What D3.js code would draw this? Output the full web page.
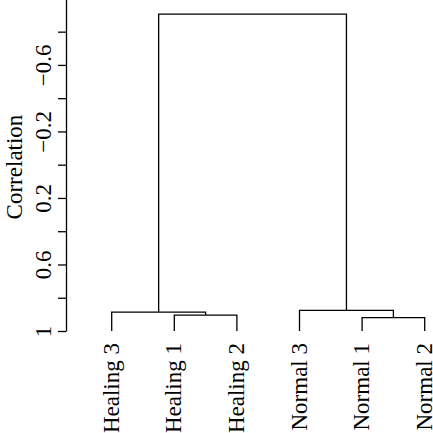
<!DOCTYPE html>
<html>
<head>
<meta charset="utf-8">
<script src="https://cdn.jsdelivr.net/npm/d3@7"></script>
<style>
  html, body { margin: 0; padding: 0; background: #fff; }
  svg { display: block; }
  text { font-family: "Liberation Serif", "Times New Roman", serif; fill: #000; }
</style>
</head>
<body>
<svg id="chart" width="433" height="433"></svg>
<script>
// Leaf order (left to right)
const leaves = ["Healing 3", "Healing 1", "Healing 2", "Normal 3", "Normal 1", "Normal 2"];
// Merge table (R-style: negative = leaf index (1-based), positive = earlier merge step)
const mergeLeft   = [-2, -5, -1, -4, 3];
const mergeRight  = [-3, -6, 1, 2, 4];
const mergeHeight = [0.904, 0.92, 0.886, 0.876, -0.906];
// Axis ticks
const tickValues = [-1, -0.8, -0.6, -0.4, -0.2, 0, 0.2, 0.4, 0.6, 0.8, 1];
const tickLabels = ["", "", "-0.6", "", "-0.2", "", "0.2", "", "0.6", "", "1"];
const yTitle = "Correlation";

const FS = 23;
const svg = d3.select("#chart");
const x = d3.scalePoint().domain(leaves).range([111.7, 424.7]);
const y = d3.scaleLinear().domain([-1, 1]).range([-1.6, 331]);

// Build node positions
const nodes = [];
function pos(ref) {
  if (ref < 0) { const name = leaves[-ref - 1]; return { x: x(name), h: 1 }; }
  return nodes[ref - 1];
}
mergeLeft.forEach((l, i) => {
  const a = pos(l), b = pos(mergeRight[i]);
  nodes.push({ x: (a.x + b.x) / 2, h: mergeHeight[i], a: a, b: b });
});

svg.append("g").selectAll("path.link")
  .data(nodes)
  .join("path")
  .attr("class", "link")
  .attr("fill", "none")
  .attr("stroke", "#000")
  .attr("stroke-width", 1.3)
  .attr("d", d => `M${d.a.x},${y(d.a.h)}V${y(d.h)}H${d.b.x}V${y(d.b.h)}`);

// Y axis
const fmt = v => {
  const s = tickLabels[tickValues.indexOf(v)];
  return s ? s.replace("-", "\u2212") : "";
};
const axis = d3.axisLeft(y).tickValues(tickValues).tickFormat(fmt).tickSize(8).tickSizeOuter(0);
const ag = svg.append("g").attr("transform", "translate(66,0)").call(axis);
ag.select(".domain").attr("stroke", "#000").attr("stroke-width", 1.3);
ag.selectAll(".tick line").attr("stroke", "#000").attr("stroke-width", 1.3);
ag.selectAll(".tick text")
  .attr("font-family", "Liberation Serif, serif")
  .attr("font-size", FS)
  .attr("fill", "#000")
  .attr("text-anchor", "middle")
  .attr("dy", null)
  .attr("x", null)
  .attr("y", 0)
  .attr("transform", "translate(-15,0) rotate(-90)");

// Y title
svg.append("text")
  .attr("transform", "translate(22,167) rotate(-90)")
  .attr("text-anchor", "middle")
  .attr("font-size", FS)
  .text(yTitle);

// Leaf labels
svg.selectAll("text.leaf")
  .data(leaves)
  .join("text")
  .attr("class", "leaf")
  .attr("font-size", FS)
  .attr("text-anchor", "end")
  .attr("transform", d => `translate(${x(d) + 7},343) rotate(-90)`)
  .text(d => d);
</script>
</body>
</html>
